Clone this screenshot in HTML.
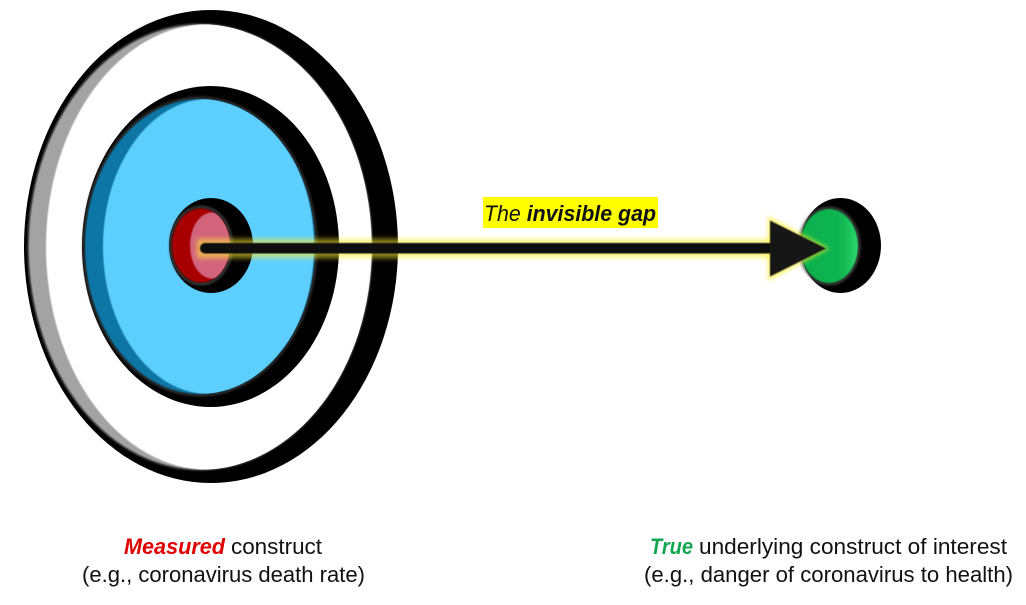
<!DOCTYPE html>
<html>
<head>
<meta charset="utf-8">
<style>
html,body{margin:0;padding:0;background:#fff;width:1026px;height:605px;overflow:hidden}
svg{display:block}
text{font-family:"Liberation Sans",sans-serif;font-size:22px;fill:#111}
</style>
</head>
<body>
<svg width="1026" height="605" viewBox="0 0 1026 605" xmlns="http://www.w3.org/2000/svg">
<defs>
<filter id="b1" x="-10%" y="-10%" width="120%" height="120%"><feGaussianBlur stdDeviation="1.2"/></filter>
<filter id="b05" x="-10%" y="-10%" width="120%" height="120%"><feGaussianBlur stdDeviation="0.6"/></filter>
<filter id="glow" x="-5%" y="-100%" width="110%" height="300%"><feGaussianBlur stdDeviation="2.6"/></filter>
<filter id="glow2" x="-30%" y="-30%" width="160%" height="160%"><feGaussianBlur stdDeviation="2"/></filter>
<clipPath id="cOuter"><ellipse cx="200" cy="247" rx="172" ry="223"/></clipPath>
<clipPath id="cMid"><ellipse cx="200" cy="246.5" rx="115" ry="147.5"/></clipPath>
<clipPath id="cRed"><ellipse cx="201" cy="245.5" rx="29" ry="37"/></clipPath>
<linearGradient id="greenFill" x1="0" y1="0" x2="1" y2="0">
<stop offset="0" stop-color="#0fae4c"/><stop offset="0.75" stop-color="#12b752"/><stop offset="1" stop-color="#2fd870"/>
</linearGradient>
</defs>

<!-- outer ring -->
<ellipse cx="211" cy="246.5" rx="187" ry="236.5" fill="#000"/>
<ellipse cx="200" cy="247" rx="172" ry="223" fill="#a3a3a3" stroke="#3a3a3a" stroke-width="2" filter="url(#b05)"/>
<g clip-path="url(#cOuter)"><ellipse cx="209" cy="247" rx="163" ry="223" fill="#fff" filter="url(#b05)"/></g>

<!-- blue ring -->
<ellipse cx="210.5" cy="246.5" rx="128.5" ry="160.5" fill="#000"/>
<ellipse cx="200" cy="246.5" rx="116" ry="148.5" fill="none" stroke="#444" stroke-width="2" filter="url(#b1)"/>
<ellipse cx="200" cy="246.5" rx="115" ry="147.5" fill="#0a76a4" filter="url(#b05)"/>
<g clip-path="url(#cMid)"><ellipse cx="208.5" cy="246.5" rx="105.5" ry="147.5" fill="#5dcfff" filter="url(#b05)"/></g>

<!-- red centre -->
<ellipse cx="211" cy="245.5" rx="42" ry="47.5" fill="#000"/>
<ellipse cx="201" cy="245.5" rx="30.5" ry="38.5" fill="none" stroke="#555" stroke-width="2" filter="url(#b1)"/>
<ellipse cx="201" cy="245.5" rx="29" ry="37" fill="#a80000" filter="url(#b05)"/>
<g clip-path="url(#cRed)"><ellipse cx="212" cy="245.5" rx="22" ry="33" fill="#d2637c" filter="url(#b05)"/></g>

<!-- green target -->
<ellipse cx="840.5" cy="245.5" rx="40.5" ry="47.5" fill="#000"/>
<ellipse cx="829" cy="246" rx="30" ry="38" fill="none" stroke="#555" stroke-width="2" filter="url(#b1)"/>
<ellipse cx="829" cy="246" rx="29" ry="37" fill="url(#greenFill)" filter="url(#b05)"/>

<!-- glow -->
<rect x="197" y="239" width="578" height="19" fill="#ffee33" opacity="0.6" filter="url(#glow)"/>
<polygon points="768,216 829,248.5 768,281" fill="#ffee33" opacity="0.7" filter="url(#glow2)"/>

<!-- arrow -->
<rect x="200" y="243" width="574" height="10.5" rx="5" fill="#0d0d0d" filter="url(#b05)"/>
<polygon points="770,220.5 826,248.5 770,276.5" fill="#151515" filter="url(#b05)"/>

<!-- gap label -->
<rect x="483" y="197" width="175" height="31" fill="#ffff00"/>
<text x="484" y="221" textLength="172" lengthAdjust="spacingAndGlyphs" font-style="italic" xml:space="preserve">The <tspan font-weight="bold">invisible gap</tspan></text>

<!-- captions -->
<text x="124" y="554" textLength="101" lengthAdjust="spacingAndGlyphs" font-style="italic" font-weight="bold" style="fill:#e00000">Measured</text>
<text x="231" y="554" textLength="91" lengthAdjust="spacingAndGlyphs">construct</text>
<text x="82" y="582" textLength="283" lengthAdjust="spacingAndGlyphs">(e.g., coronavirus death rate)</text>

<text x="650" y="554" textLength="43" lengthAdjust="spacingAndGlyphs" font-style="italic" font-weight="bold" style="fill:#12a650">True</text>
<text x="699" y="554" textLength="308" lengthAdjust="spacingAndGlyphs">underlying construct of interest</text>
<text x="644" y="582" textLength="369" lengthAdjust="spacingAndGlyphs">(e.g., danger of coronavirus to health)</text>
</svg>
</body>
</html>
